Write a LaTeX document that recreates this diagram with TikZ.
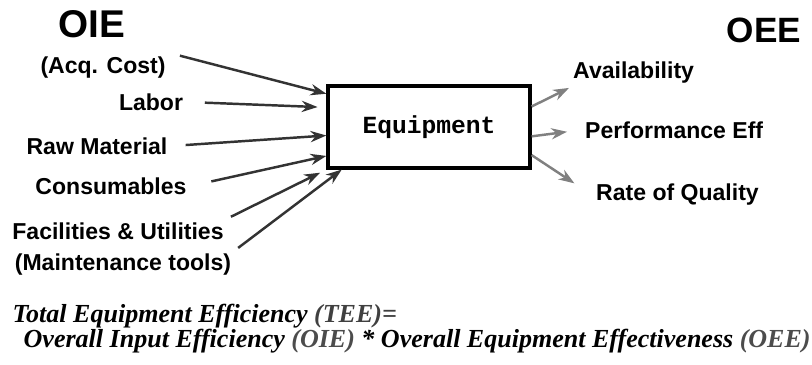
\documentclass[tikz,border=0pt]{standalone}
\usepackage{fontspec}
\setmainfont{Liberation Sans}
\newfontfamily\equipfont{Liberation Mono}
\newfontfamily\teefont{Liberation Serif}
\usetikzlibrary{calc,arrows.meta}

\tikzset{
  headlabel/.style={font=\bfseries\fontsize{10}{12}\selectfont, inner sep=0pt},
  inlabel/.style={font=\bfseries\fontsize{6.55}{8}\selectfont, inner sep=1pt},
  equipbox/.style={draw, line width=0.9pt, minimum width=2.02cm, minimum height=0.82cm,
    font=\equipfont\bfseries\fontsize{7}{8}\selectfont},
  inarrow/.style={->, draw=black!80, line width=0.7pt, shorten <=3pt},
  outarrow/.style={->, draw=black!50, line width=0.7pt},
  teeline/.style={anchor=base west, inner sep=0pt,
    font=\teefont\bfseries\itshape\fontsize{7.4}{9}\selectfont}
}

\begin{document}
\begin{tikzpicture}[x=0.01cm, y=-0.01cm, >={Stealth[length=4.5pt,width=3.2pt]}]
  \useasboundingbox (0,0) rectangle (812,365);

  % Headings
  \node[headlabel, font=\bfseries\fontsize{11}{13}\selectfont] (oie) at (92,24) {OIE};
  \node[headlabel] (oee) at (764,30) {OEE};

  % Equipment box
  \node[equipbox] (equip) at (429,127) {Equipment};

  % Inputs
  \node[inlabel] (acq)   at (103,68)  {(Acq. Cost)};
  \node[inlabel] (labor) at (151,102) {Labor};
  \node[inlabel] (raw)   at (97,146)  {Raw Material};
  \node[inlabel] (cons)  at (111,186) {Consumables};
  \node[inlabel] (fac)   at (118,231) {Facilities \& Utilities};
  \node[inlabel] (maint) at (123,265) {(Maintenance tools)};

  \draw[inarrow] (acq.north east) -- ($(equip.north west)!0.11!(equip.south west)$);
  \draw[inarrow, shorten <=5pt, shorten >=2.5pt] (labor.east) -- ($(equip.north west)!0.27!(equip.south west)$);
  \draw[inarrow, shorten <=4pt] (raw.east) -- ($(equip.north west)!0.6!(equip.south west)$);
  \draw[inarrow, shorten <=6pt] (cons.east) -- ($(equip.north west)!0.84!(equip.south west)$);
  \draw[inarrow, shorten <=1pt, shorten >=2pt] (fac.north east) -- (equip.south west);
  \draw[inarrow, shorten <=1pt] (maint.north east) -- ($(equip.south west)!0.075!(equip.south east)$);

  % Outputs
  \node[inlabel, anchor=west] (avail) at (569,73)  {Availability};
  \node[inlabel, anchor=west] (perf)  at (581,130) {Performance Eff};
  \node[inlabel, anchor=west] (rate)  at (592,195) {Rate of Quality};

  \draw[outarrow] ($(equip.north east)!0.26!(equip.south east)$) -- (avail.south west);
  \draw[outarrow, shorten >=4pt] ($(equip.north east)!0.61!(equip.south east)$) -- (perf.west);
  \draw[outarrow, shorten >=6pt] ($(equip.north east)!0.83!(equip.south east)$) -- (rate.west);

  % Formula
  \node[teeline] (tee) at (12,323) {Total Equipment Efficiency \textcolor{black!75}{(TEE)=}};
  \node[teeline] (prod) at (23,348) {Overall Input Efficiency \textcolor{black!70}{(OIE)} * Overall Equipment Effectiveness \textcolor{black!70}{(OEE)}};
\end{tikzpicture}
\end{document}
